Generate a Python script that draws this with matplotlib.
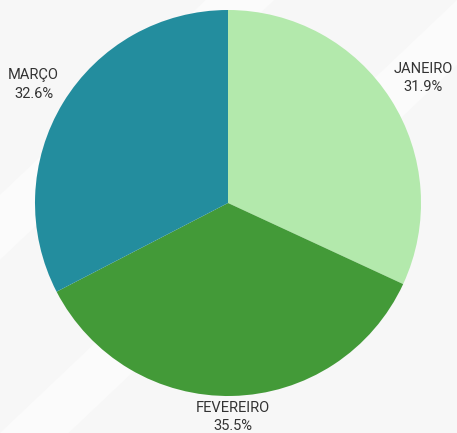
import matplotlib
matplotlib.use('Agg')
import matplotlib.pyplot as plt
import numpy as np
from matplotlib.patches import Polygon

# dados
meses = ['JANEIRO', 'FEVEREIRO', 'MARÇO']
percentuais = [31.9, 35.5, 32.6]
cores = ['#b3e9ac', '#439a38', '#238d9e']
dist_rotulo = [1.2, 1.11, 1.18]

plt.rcParams['font.family'] = ['Roboto', 'DejaVu Sans']

fig = plt.figure(figsize=(4.57, 4.33), dpi=100, facecolor='#f7f7f7')

# faixas claras no fundo
for x0 in [0.05, 0.6]:
    faixa = Polygon([(x0 - 0.6, 0.0), (x0 - 0.45, 0.0), (x0 + 0.55, 1.0), (x0 + 0.4, 1.0)],
                    closed=True, transform=fig.transFigure, facecolor='white',
                    edgecolor='none', alpha=0.5, zorder=-10)
    fig.patches.append(faixa)

ax = fig.add_axes([35 / 457, 37 / 433, 386 / 457, 386 / 433])
ax.set_facecolor('none')
ax.set_zorder(1)

wedges, _ = ax.pie(percentuais, colors=cores, startangle=90, counterclock=False,
                   radius=1, wedgeprops=dict(linewidth=0))

for w, nome, p, d in zip(wedges, meses, percentuais, dist_rotulo):
    ang = np.deg2rad((w.theta1 + w.theta2) / 2)
    x, y = d * np.cos(ang), d * np.sin(ang)
    ax.text(x, y, f'{nome}\n{p}%', ha='center', va='center', fontsize=10.5,
            color='#333333', linespacing=1.4, clip_on=False)

ax.set_xlim(-1, 1)
ax.set_ylim(-1, 1)
ax.set_aspect('equal')
ax.axis('off')

plt.savefig('out.png', dpi=100, facecolor=fig.get_facecolor())
